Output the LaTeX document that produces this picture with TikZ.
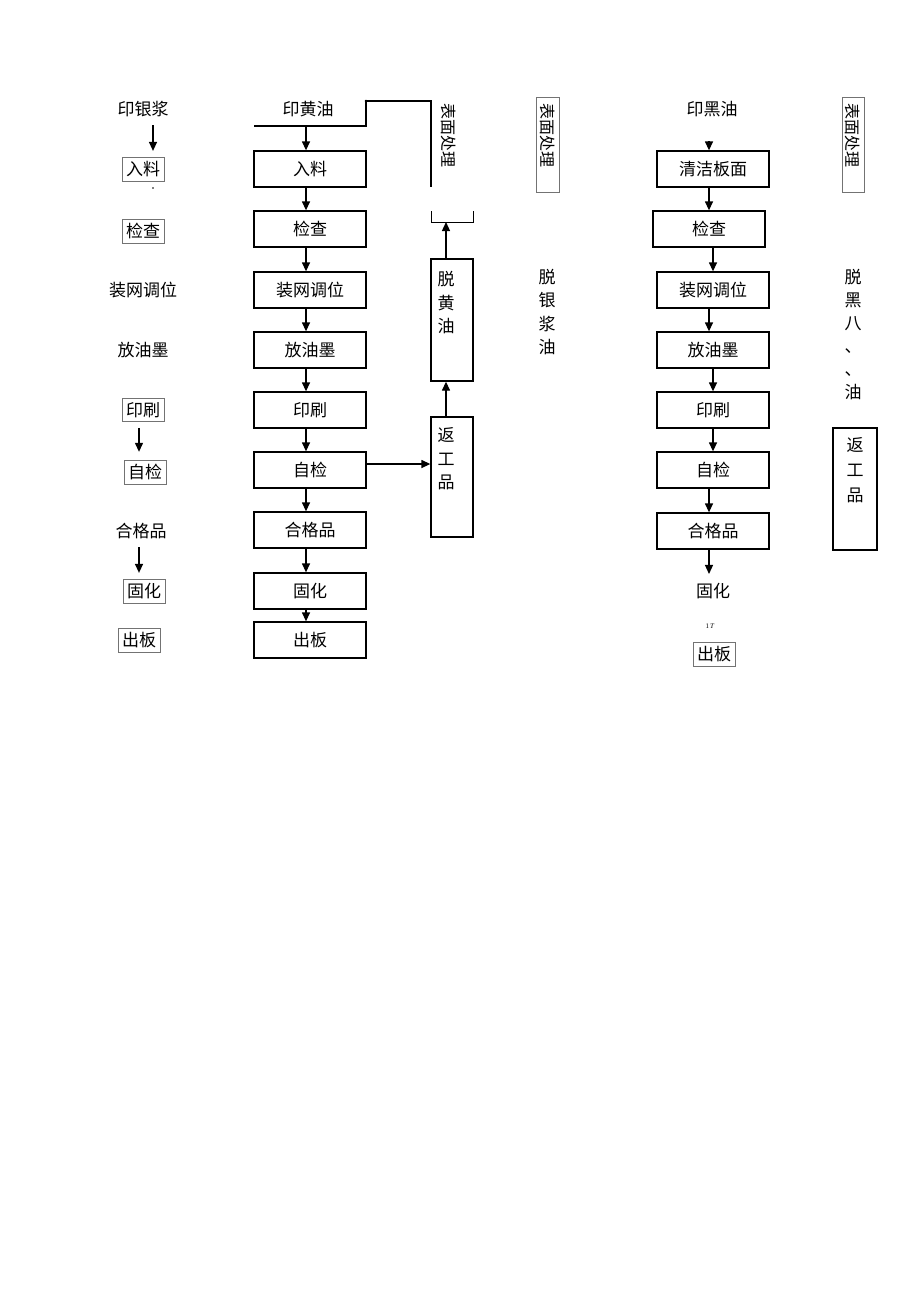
\documentclass[tikz,border=0pt]{standalone}
\usepackage{fontspec}
\setmainfont{Noto Sans CJK SC}
\newfontfamily\latinfont{Liberation Serif}
\usetikzlibrary{arrows.meta}
\begin{document}
\begin{tikzpicture}[x=1pt,y=-1pt,
  every node/.style={font=\fontsize{17}{17}\selectfont, inner sep=0pt},
  mbox/.style={draw, line width=1.3pt, minimum width=112pt, minimum height=36pt},
  sbox/.style={draw=black!55, line width=0.6pt, inner sep=4pt},
  vtext/.style={align=center, font=\fontsize{17}{23.5}\selectfont},
  rtext/.style={rotate=-90, font=\fontsize{16}{16}\selectfont},
  arr/.style={line width=1.3pt, -{Triangle[length=9pt,width=8pt]}},
  ln/.style={line width=1.3pt}]
\fill[white] (0,0) rectangle (920,1302);
\useasboundingbox (0,0) rectangle (920,1302);

% ---------- left column ----------
\node (l0) at (143,109) {印银浆};
\node[sbox] (l1) at (143,169) {入料};
\node[sbox] (l2) at (143,231) {检查};
\node (l3) at (143,290) {装网调位};
\node (l4) at (143,350) {放油墨};
\node[sbox] (l5) at (143,410) {印刷};
\node[sbox] (l6) at (145,472) {自检};
\node (l7) at (141,531) {合格品};
\node[sbox] (l8) at (144,591) {固化};
\node[sbox] (l9) at (139,640) {出板};
\fill (153,188) circle (0.9pt);
\draw[arr] ([xshift=10pt,yshift=-8pt]l0.south) -- ([xshift=10pt,yshift=6pt]l1.north);
\draw[arr] ([xshift=-4pt,yshift=-6pt]l5.south) -- ([xshift=-6pt,yshift=8pt]l6.north);
\draw[arr] ([xshift=-2pt,yshift=-8pt]l7.south) -- ([xshift=-5pt,yshift=6pt]l8.north);

% ---------- middle column ----------
\node (m0) at (308,109) {印黄油};
\node[mbox] (m1) at (310,169) {入料};
\node[mbox] (m2) at (310,229) {检查};
\node[mbox] (m3) at (310,290) {装网调位};
\node[mbox] (m4) at (310,350) {放油墨};
\node[mbox] (m5) at (310,410) {印刷};
\node[mbox] (m6) at (310,470) {自检};
\node[mbox] (m7) at (310,530) {合格品};
\node[mbox] (m8) at (310,591) {固化};
\node[mbox] (m9) at (310,640) {出板};

\coordinate (ta) at (254,126);
\coordinate (tb) at (366,126);
\coordinate (tc) at (366,101);
\coordinate (td) at (431,101);
\coordinate (te) at (431,187);
\coordinate (t1) at (306,126);
\draw[ln] (ta) -- (tb) -- (tc) -- (td) -- (te);
\fill (tc) circle (1.3pt);
\draw[arr] (t1) -- ([xshift=-4pt]m1.north);
\draw[arr] ([xshift=-4pt]m1.south) -- ([xshift=-4pt]m2.north);
\draw[arr] ([xshift=-4pt]m2.south) -- ([xshift=-4pt]m3.north);
\draw[arr] ([xshift=-4pt]m3.south) -- ([xshift=-4pt]m4.north);
\draw[arr] ([xshift=-4pt]m4.south) -- ([xshift=-4pt]m5.north);
\draw[arr] ([xshift=-4pt]m5.south) -- ([xshift=-4pt]m6.north);
\draw[arr] ([xshift=-4pt]m6.south) -- ([xshift=-4pt]m7.north);
\draw[arr] ([xshift=-4pt]m7.south) -- ([xshift=-4pt]m8.north);
\draw[arr] ([xshift=-4pt]m8.south) -- ([xshift=-4pt]m9.north);

\node[rtext] (bm1) at (449,135) {表面处理};

% bracket
\coordinate (b1) at (431,211);
\coordinate (b2) at (431,222);
\coordinate (b3) at (473,222);
\coordinate (b4) at (473,211);
\coordinate (br) at (446,222);
\draw[line width=1pt] (b1) -- (b2) -- (b3) -- (b4);

\node[draw, line width=1.3pt, minimum width=42pt, minimum height=122pt] (tyb) at (452,320) {};
\node[vtext] (tyt) at (446,303) {脱\\黄\\油};
\node[draw, line width=1.3pt, minimum width=42pt, minimum height=120pt] (rb) at (452,477) {};
\node[vtext] (rbt) at (446,459) {返\\工\\品};
\draw[arr] ([xshift=-6pt]tyb.north) -- (br);
\draw[arr] ([xshift=-6pt]rb.north) -- ([xshift=-6pt]tyb.south);
\draw[arr] ([yshift=6pt]m6.east) -- ([yshift=13pt]rb.west);

% middle right labels
\node[draw=black!55, line width=0.6pt, minimum width=23pt, minimum height=95pt] (sb1) at (547.5,144.5) {};
\node[rtext] (sb1t) at (548,135) {表面处理};
\node[vtext] (tyj) at (547,312) {脱\\银\\浆\\油};

% ---------- right column ----------
\node (r0) at (712,109) {印黑油};
\node[mbox] (r1) at (713,169) {清洁板面};
\node[mbox] (r2) at (709,229) {检查};
\node[mbox] (r3) at (713,290) {装网调位};
\node[mbox] (r4) at (713,350) {放油墨};
\node[mbox] (r5) at (713,410) {印刷};
\node[mbox] (r6) at (713,470) {自检};
\node[mbox] (r7) at (713,531) {合格品};
\node (r8) at (713,591) {固化};
\node[font=\latinfont\fontsize{7}{7}\selectfont] (r8b) at (710,626) {1\,\textit{T}};
\node[sbox] (r9) at (714,654) {出板};
\coordinate (r0a) at (709,141);
\draw[arr] (r0a) -- ([xshift=-4pt]r1.north);
\draw[arr] ([xshift=-4pt]r1.south) -- (r2.north);
\draw[arr] ([xshift=4pt]r2.south) -- (r3.north);
\draw[arr] ([xshift=-4pt]r3.south) -- ([xshift=-4pt]r4.north);
\draw[arr] (r4.south) -- (r5.north);
\draw[arr] (r5.south) -- (r6.north);
\draw[arr] ([xshift=-4pt]r6.south) -- ([xshift=-4pt]r7.north);
\draw[arr] ([xshift=-4pt]r7.south) -- ([xshift=-4pt,yshift=9pt]r8.north);

% far right
\node[draw=black!55, line width=0.6pt, minimum width=22pt, minimum height=95pt] (sb2) at (853,144.5) {};
\node[rtext] (sb2t) at (853,135) {表面处理};
\node[vtext, font=\fontsize{17}{23}\selectfont] (thy) at (853,334.5) {脱\\黑\\八\\、\\、\\油};
\node[draw, line width=1.6pt, minimum width=44pt, minimum height=122pt] (rb2) at (855,489) {};
\node[vtext, font=\fontsize{17}{25}\selectfont] (rb2t) at (855,470) {返\\工\\品};
\end{tikzpicture}
\end{document}
